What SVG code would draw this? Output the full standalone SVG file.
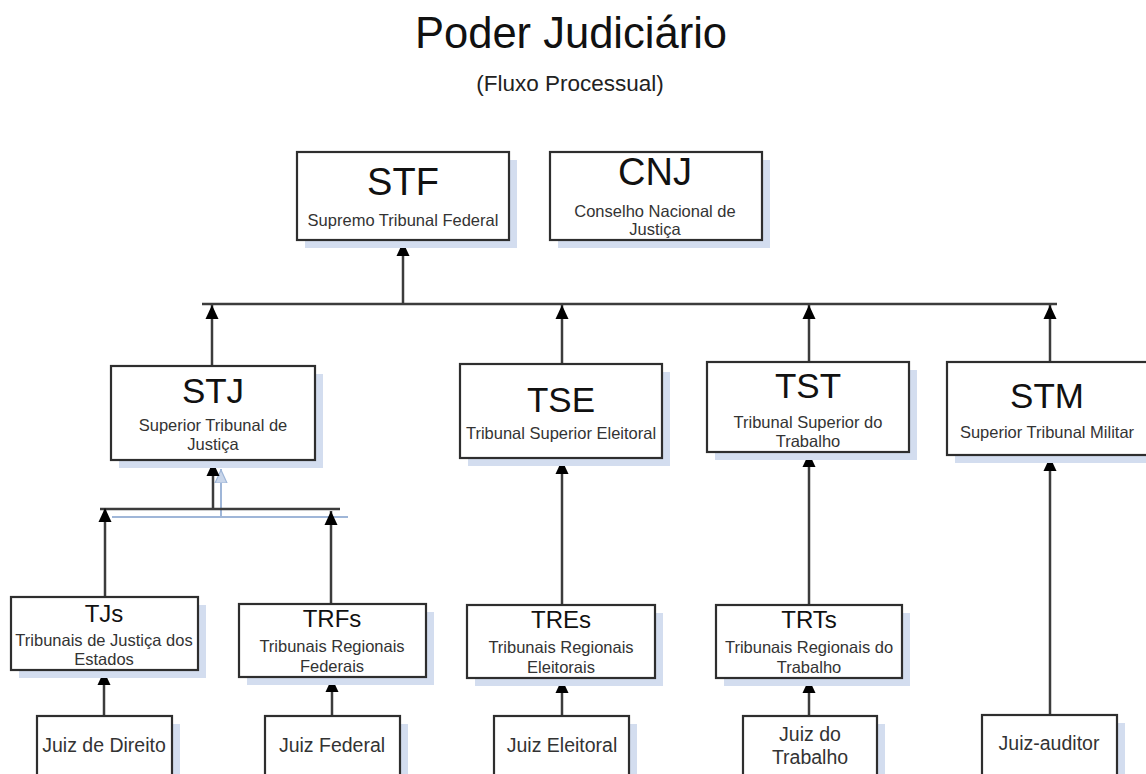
<svg xmlns="http://www.w3.org/2000/svg" width="1146" height="774" viewBox="0 0 1146 774">
<style>
  text { font-family: "Liberation Sans", Arial, sans-serif; text-anchor: middle; }
  .title { font-size: 44px; fill: #111; }
  .sub { font-size: 22.5px; fill: #222; }
  .big { font-size: 38px; fill: #111; }
  .mid { font-size: 35px; fill: #111; }
  .lvl3 { font-size: 24px; fill: #111; }
  .small { font-size: 16.5px; fill: #333; }
  .juiz { font-size: 19.5px; fill: #333; }
  .box { fill: #ffffff; stroke: #2e2e2e; stroke-width: 2.2; }
  .shadow { fill: #d3ddef; }
  .conn { stroke: #3c3c3c; stroke-width: 2.5; fill: none; }
  .arrow { stroke: #3c3c3c; stroke-width: 2.5; fill: none; marker-end: url(#ah); }
  .blue { stroke: #9fb6d8; stroke-width: 2; fill: none; }
</style>
<defs>
  <marker id="ah" markerUnits="userSpaceOnUse" markerWidth="14" markerHeight="14" viewBox="0 0 14 14" refX="14" refY="7" orient="auto">
    <path d="M0,0.5 L14,7 L0,13.5 z" fill="#000"/>
  </marker>
  <marker id="ahb" markerUnits="userSpaceOnUse" markerWidth="14" markerHeight="14" viewBox="0 0 14 14" refX="14" refY="7" orient="auto">
    <path d="M0,1 L13,7 L0,13 z" fill="#c9d6ea" stroke="#9fb6d8" stroke-width="1.2"/>
  </marker>
</defs>

<g id="title">
  <text class="title" x="571" y="48" textLength="312" lengthAdjust="spacingAndGlyphs">Poder Judiciário</text>
  <text class="sub" x="570" y="91">(Fluxo Processual)</text>
</g>

<g id="connectors">
  <line class="conn" x1="202" y1="304" x2="1057" y2="304"/>
  <line class="arrow" x1="403" y1="305" x2="403" y2="242"/>
  <line class="arrow" x1="212" y1="366" x2="212" y2="305"/>
  <line class="arrow" x1="562" y1="364" x2="562" y2="305"/>
  <line class="arrow" x1="809" y1="362" x2="809" y2="305"/>
  <line class="arrow" x1="1050" y1="362" x2="1050" y2="305"/>
  <line class="blue" x1="112" y1="517" x2="348" y2="517"/>
  <line class="blue" x1="221" y1="517" x2="221" y2="469" marker-end="url(#ahb)"/>
  <line class="conn" x1="100" y1="509" x2="340" y2="509"/>
  <line class="arrow" x1="213" y1="509" x2="213" y2="462"/>
  <line class="arrow" x1="105" y1="597" x2="105" y2="508"/>
  <line class="arrow" x1="331" y1="604" x2="331" y2="511"/>
  <line class="arrow" x1="104" y1="716" x2="104" y2="671"/>
  <line class="arrow" x1="332" y1="716" x2="332" y2="678"/>
  <line class="arrow" x1="562" y1="605" x2="562" y2="460"/>
  <line class="arrow" x1="562" y1="716" x2="562" y2="679"/>
  <line class="arrow" x1="809" y1="605" x2="809" y2="453"/>
  <line class="arrow" x1="809" y1="716" x2="809" y2="679"/>
  <line class="arrow" x1="1050" y1="715" x2="1050" y2="457"/>
</g>

<g id="stf">
  <rect class="shadow" x="305" y="160" width="212" height="88"/>
  <rect class="box" x="297" y="152" width="212" height="88"/>
  <text class="big" x="403" y="195">STF</text>
  <text class="small" x="403" y="226">Supremo Tribunal Federal</text>
</g>
<g id="cnj">
  <rect class="shadow" x="558" y="160" width="212" height="88"/>
  <rect class="box" x="550" y="152" width="212" height="88"/>
  <text class="big" x="655" y="185">CNJ</text>
  <text class="small" x="655" y="217">Conselho Nacional de</text>
  <text class="small" x="655" y="235">Justiça</text>
</g>

<g id="stj">
  <rect class="shadow" x="119" y="374" width="204" height="94"/>
  <rect class="box" x="111" y="366" width="204" height="94"/>
  <text class="mid" x="213" y="403">STJ</text>
  <text class="small" x="213" y="431">Superior Tribunal de</text>
  <text class="small" x="213" y="450">Justiça</text>
</g>
<g id="tse">
  <rect class="shadow" x="468" y="372" width="202" height="94"/>
  <rect class="box" x="460" y="364" width="202" height="94"/>
  <text class="mid" x="561" y="412">TSE</text>
  <text class="small" x="561" y="439">Tribunal Superior Eleitoral</text>
</g>
<g id="tst">
  <rect class="shadow" x="715" y="370" width="202" height="90"/>
  <rect class="box" x="707" y="362" width="202" height="90"/>
  <text class="mid" x="808" y="398">TST</text>
  <text class="small" x="808" y="428">Tribunal Superior do</text>
  <text class="small" x="808" y="447">Trabalho</text>
</g>
<g id="stm">
  <rect class="shadow" x="955" y="370" width="205" height="93"/>
  <rect class="box" x="947" y="362" width="205" height="93"/>
  <text class="mid" x="1047" y="408">STM</text>
  <text class="small" x="1047" y="438">Superior Tribunal Militar</text>
</g>

<g id="tjs">
  <rect class="shadow" x="19" y="605" width="187" height="73"/>
  <rect class="box" x="11" y="597" width="187" height="73"/>
  <text class="lvl3" x="104" y="622">TJs</text>
  <text class="small" x="104" y="646">Tribunais de Justiça dos</text>
  <text class="small" x="104" y="665">Estados</text>
</g>
<g id="trfs">
  <rect class="shadow" x="247" y="612" width="187" height="73"/>
  <rect class="box" x="239" y="604" width="187" height="73"/>
  <text class="lvl3" x="332" y="627">TRFs</text>
  <text class="small" x="332" y="652">Tribunais Regionais</text>
  <text class="small" x="332" y="672">Federais</text>
</g>
<g id="tres">
  <rect class="shadow" x="475" y="613" width="188" height="73"/>
  <rect class="box" x="467" y="605" width="188" height="73"/>
  <text class="lvl3" x="561" y="628">TREs</text>
  <text class="small" x="561" y="653">Tribunais Regionais</text>
  <text class="small" x="561" y="673">Eleitorais</text>
</g>
<g id="trts">
  <rect class="shadow" x="724" y="613" width="186" height="73"/>
  <rect class="box" x="716" y="605" width="186" height="73"/>
  <text class="lvl3" x="809" y="628">TRTs</text>
  <text class="small" x="809" y="653">Tribunais Regionais do</text>
  <text class="small" x="809" y="673">Trabalho</text>
</g>

<g id="juiz-direito">
  <rect class="shadow" x="45" y="724" width="135" height="70"/>
  <rect class="box" x="37" y="716" width="135" height="70"/>
  <text class="juiz" x="104" y="752">Juiz de Direito</text>
</g>
<g id="juiz-federal">
  <rect class="shadow" x="273" y="724" width="135" height="70"/>
  <rect class="box" x="265" y="716" width="135" height="70"/>
  <text class="juiz" x="332" y="752">Juiz Federal</text>
</g>
<g id="juiz-eleitoral">
  <rect class="shadow" x="502" y="724" width="135" height="70"/>
  <rect class="box" x="494" y="716" width="135" height="70"/>
  <text class="juiz" x="562" y="752">Juiz Eleitoral</text>
</g>
<g id="juiz-trabalho">
  <rect class="shadow" x="751" y="724" width="134" height="70"/>
  <rect class="box" x="743" y="716" width="134" height="70"/>
  <text class="juiz" x="810" y="741">Juiz do</text>
  <text class="juiz" x="810" y="764">Trabalho</text>
</g>
<g id="juiz-auditor">
  <rect class="shadow" x="990" y="723" width="135" height="70"/>
  <rect class="box" x="982" y="715" width="135" height="70"/>
  <text class="juiz" x="1049" y="750">Juiz-auditor</text>
</g>
</svg>
